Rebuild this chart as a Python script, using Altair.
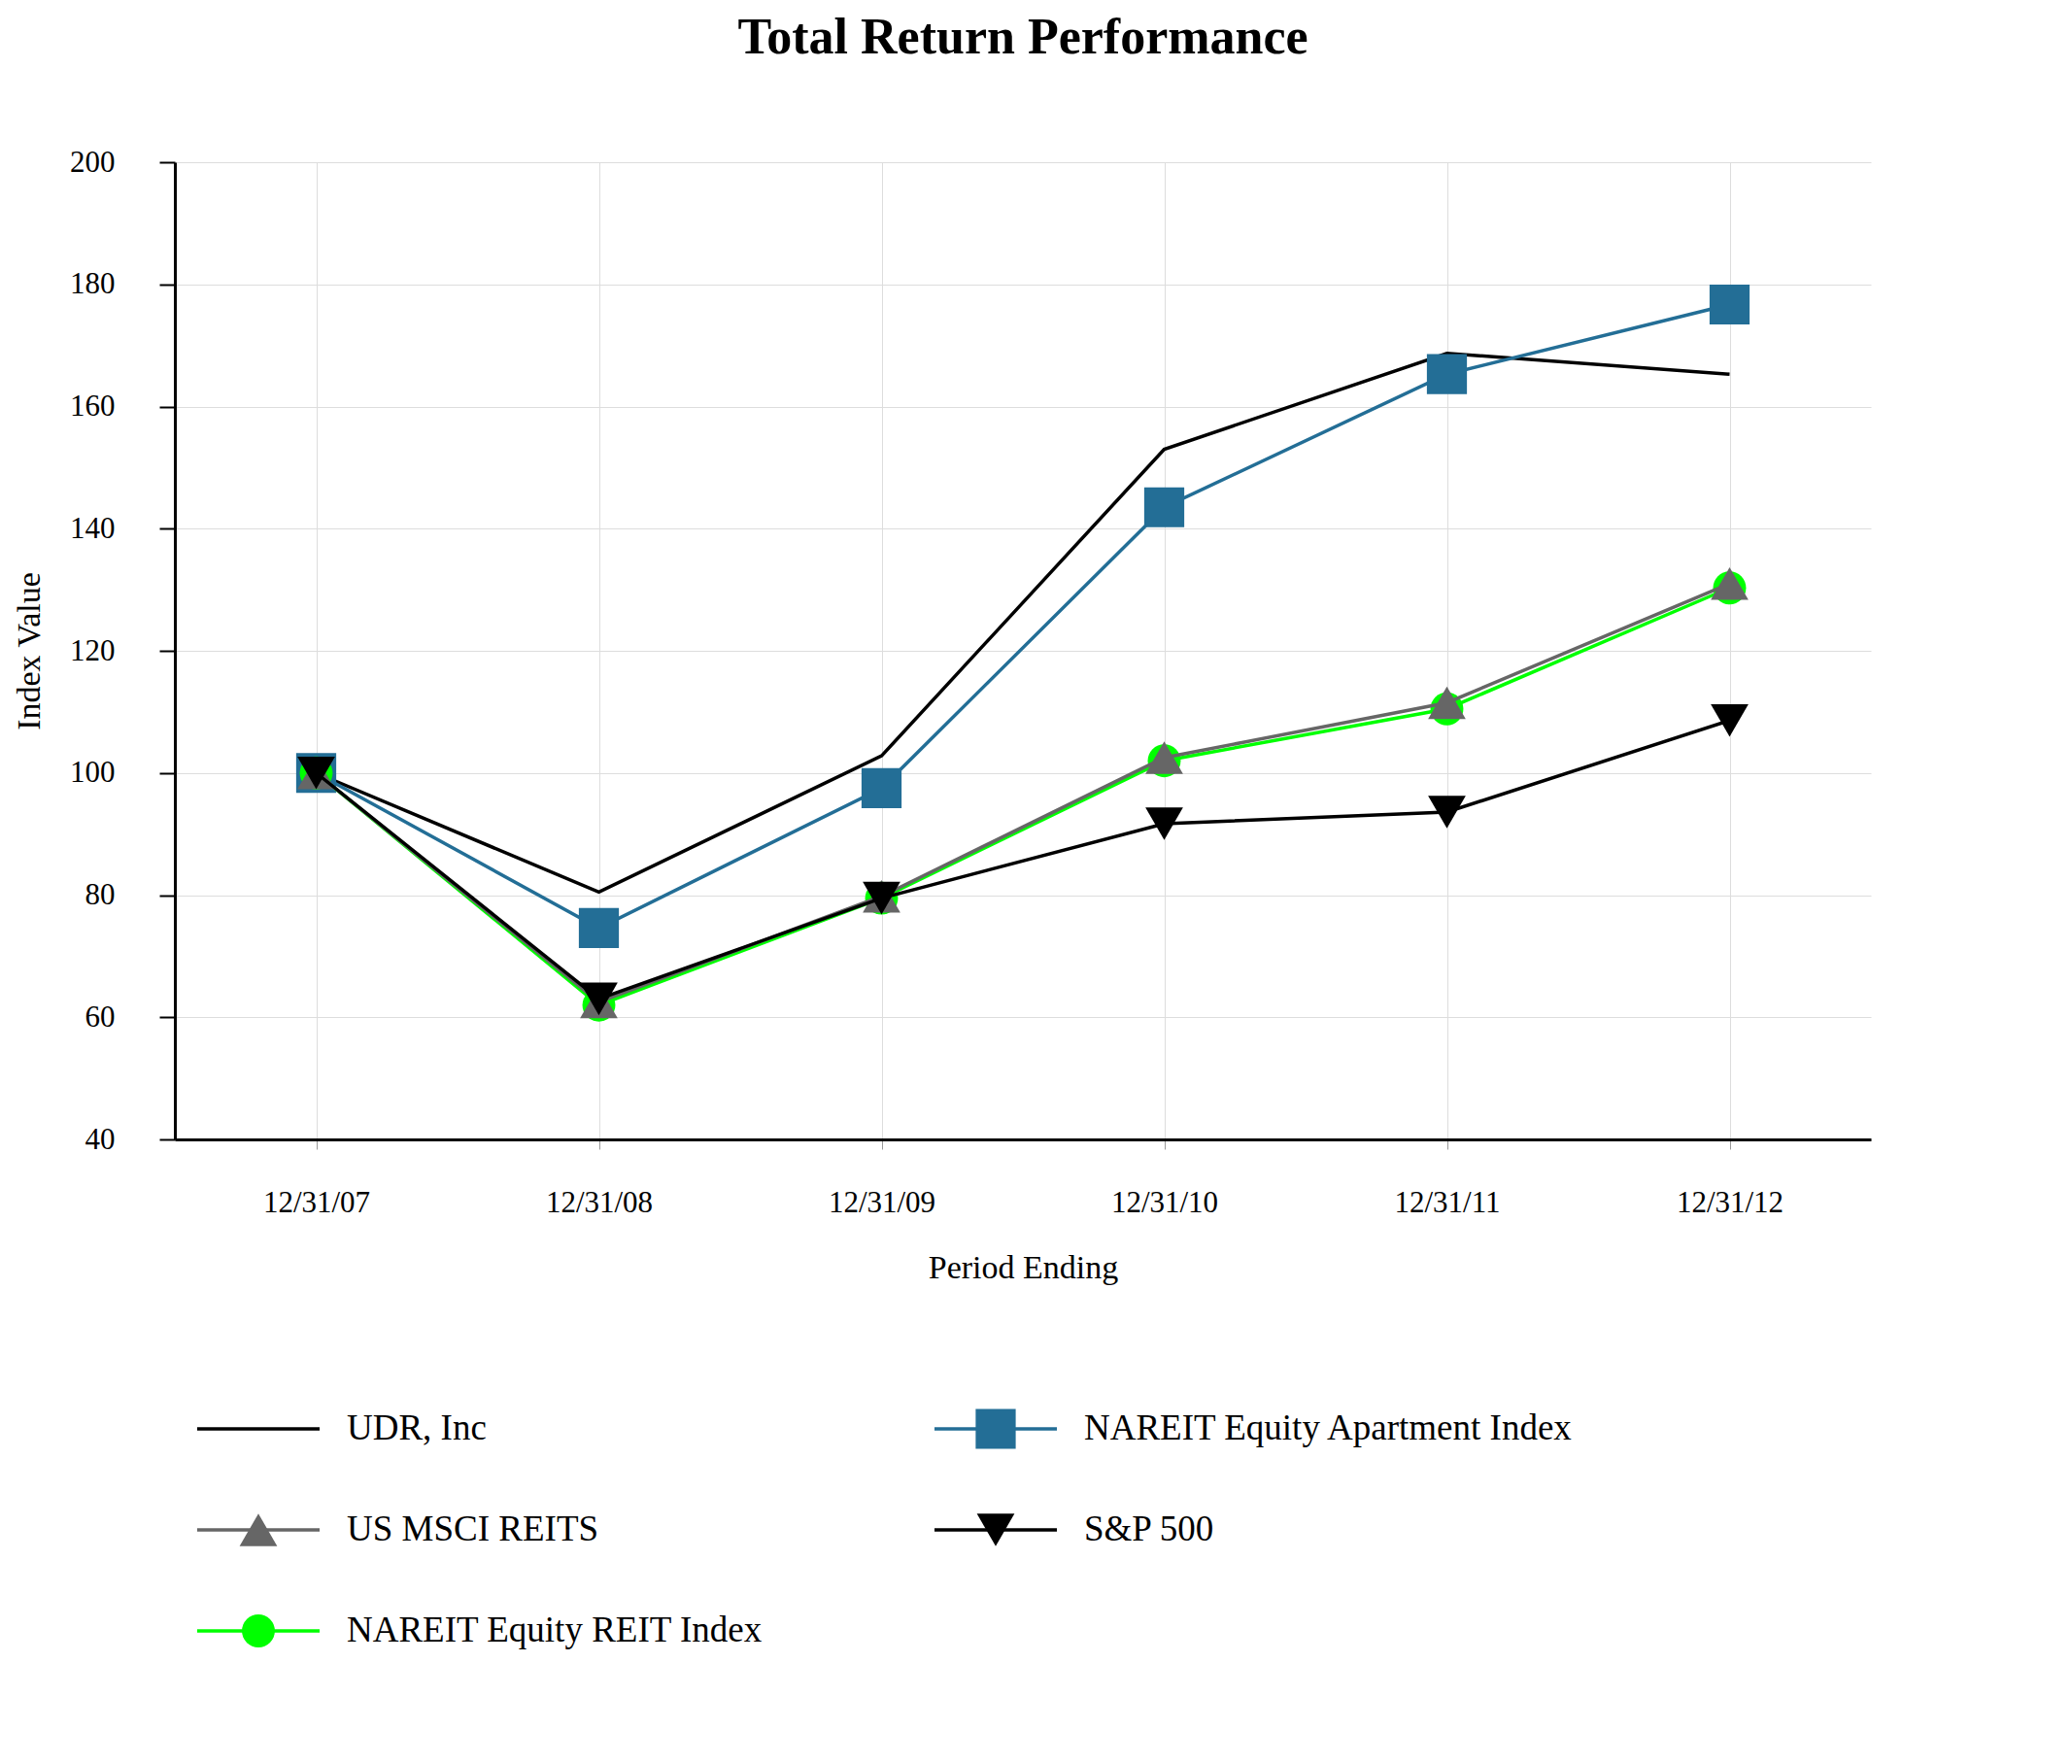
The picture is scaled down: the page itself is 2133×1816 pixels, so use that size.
import pandas as pd
import altair as alt

periods = ["12/31/07", "12/31/08", "12/31/09", "12/31/10", "12/31/11", "12/31/12"]
udr = [100, 80.5, 102.8, 153.0, 168.7, 165.3]
apt = [100, 74.6, 97.5, 143.5, 165.3, 176.7]
msci = [100, 62.5, 79.8, 102.5, 111.5, 131.0]
reit = [100, 62.0, 79.5, 102.0, 110.5, 130.3]
sp500 = [100, 63.0, 79.5, 91.7, 93.6, 108.6]

series = [
    ("UDR, Inc", udr, "#000000", None),
    ("NAREIT Equity Apartment Index", apt, "#236E96", "square"),
    ("NAREIT Equity REIT Index", reit, "#00FF00", "circle"),
    ("US MSCI REITS", msci, "#666666", "triangle-up"),
    ("S&P 500", sp500, "#000000", "triangle-down"),
]
marker_size = {"square": 1700, "circle": 1150, "triangle-up": 1500, "triangle-down": 1500}

FONT = "Liberation Serif"
W, H = 1746, 1006

x_enc = alt.X(
    "period:N", sort=periods, title="Period Ending",
    scale=alt.Scale(padding=0.5),
    axis=alt.Axis(labelAngle=0, labelPadding=40, titlePadding=35, tickSize=10,
                  domainWidth=3, domainColor="black", tickColor="#999",
                  grid=True, gridColor="#dddddd"),
)
y_enc = alt.Y(
    "value:Q", title="Index Value",
    scale=alt.Scale(domain=[40, 200], nice=False),
    axis=alt.Axis(values=list(range(40, 201, 20)), tickSize=16, labelPadding=46,
                  titlePadding=24, domainWidth=3, domainColor="black",
                  tickColor="black", tickWidth=2, grid=True, gridColor="#dddddd"),
)

layers = []
for name, vals, color, shape in series:
    df = pd.DataFrame({"period": periods, "value": vals, "name": name})
    base = alt.Chart(df).encode(x=x_enc, y=y_enc)
    layers.append(base.mark_line(color=color, strokeWidth=3.5))
    if shape:
        layers.append(base.mark_point(shape=shape, filled=True, color=color,
                                      opacity=1, size=marker_size[shape]))

# legend (two columns, below the axis)
legend_rows = [
    ("UDR, Inc", 23, 1304, "#000000", None),
    ("NAREIT Equity Apartment Index", 782, 1304, "#236E96", "square"),
    ("US MSCI REITS", 23, 1408, "#666666", "triangle-up"),
    ("S&P 500", 782, 1408, "#000000", "triangle-down"),
    ("NAREIT Equity REIT Index", 23, 1512, "#00FF00", "circle"),
]
for name, lx, ly, color, shape in legend_rows:
    ld = pd.DataFrame({"x": [lx], "x2": [lx + 126], "xm": [lx + 63], "xt": [lx + 154],
                       "y": [ly], "name": [name]})
    lb = alt.Chart(ld)
    layers.append(lb.mark_rule(color=color, strokeWidth=3.5).encode(
        x=alt.X("x:Q", scale=None), x2="x2:Q", y=alt.Y("y:Q", scale=None)))
    if shape:
        layers.append(lb.mark_point(shape=shape, filled=True, color=color, opacity=1,
                                    size=marker_size[shape]).encode(
            x=alt.X("xm:Q", scale=None), y=alt.Y("y:Q", scale=None)))
    layers.append(lb.mark_text(align="left", baseline="middle", font=FONT,
                               fontSize=37, color="black").encode(
        x=alt.X("xt:Q", scale=None), y=alt.Y("y:Q", scale=None), text="name:N"))

chart = (
    alt.layer(*layers)
    .properties(width=W, height=H,
                title=alt.TitleParams("Total Return Performance", font=FONT,
                                      fontSize=52, fontWeight="bold", offset=85,
                                      anchor="middle"))
    .configure_axis(labelFont=FONT, titleFont=FONT, labelFontSize=31,
                    titleFontSize=34, labelColor="black", titleColor="black",
                    titleFontWeight="normal")
    .configure_view(stroke=None)
)

chart.save("out.html", embed_options={"renderer": "svg", "actions": False})
